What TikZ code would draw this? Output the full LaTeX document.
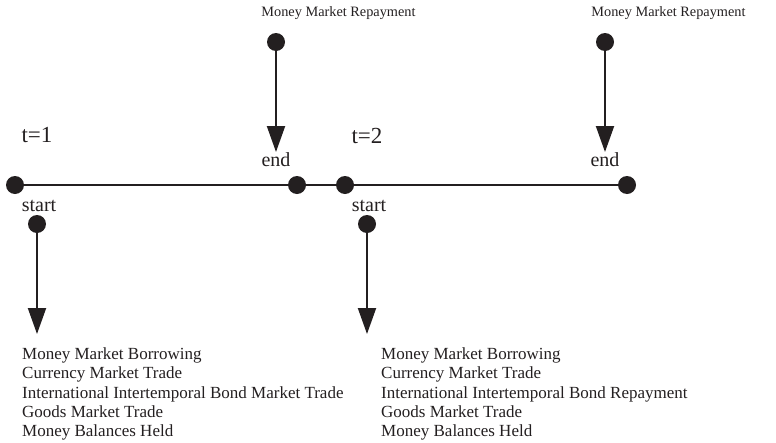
\documentclass[tikz,border=0pt]{standalone}
\usepackage{fontspec}
\setmainfont{Liberation Serif}
\usetikzlibrary{arrows.meta}
\definecolor{ink}{HTML}{231F20}
\begin{document}
\begin{tikzpicture}[x=1pt,y=-1pt,
  dot/.style={circle,fill=ink,inner sep=0pt,minimum size=18pt},
  conn/.style={draw=ink,line width=2pt},
  arr/.style={conn,-{Triangle[width=18pt,length=26pt]}},
  small/.style={text=ink,inner sep=0pt,font=\fontsize{14.3}{17}\selectfont},
  lbl/.style={text=ink,inner sep=0pt,font=\fontsize{20}{24}\selectfont},
  big/.style={text=ink,inner sep=0pt,font=\fontsize{23}{26}\selectfont},
  list/.style={text=ink,inner sep=0pt,font=\fontsize{17}{19.25}\selectfont,align=left,anchor=north west}]
\useasboundingbox (0,0) rectangle (776,442);
% timeline
\node[dot] (a1) at (15,185) {};
\node[dot] (a2) at (297,185) {};
\node[dot] (b1) at (345,185) {};
\node[dot] (b2) at (627,185) {};
\draw[conn] (a1) -- (a2) -- (b1) -- (b2);
% period labels
\node[big] (t1) at (37,135.5) {t=1};
\node[big] (t2) at (367,135.5) {t=2};
\node[lbl] (st1) at (39,206) {start};
\node[lbl] (st2) at (369,206) {start};
\node[lbl] (en1) at (276,160) {end};
\node[lbl] (en2) at (605,160) {end};
% start arrows
\node[dot] (s1) at (37,224) {};
\coordinate (s1tip) at (37,334);
\draw[arr] (s1.center) -- (s1tip);
\node[dot] (s2) at (367,224) {};
\coordinate (s2tip) at (367,334);
\draw[arr] (s2.center) -- (s2tip);
% end arrows
\node[dot] (r1) at (276,42) {};
\coordinate (r1tip) at (276,152);
\draw[arr] (r1.center) -- (r1tip);
\node[dot] (r2) at (605,42) {};
\coordinate (r2tip) at (605,152);
\draw[arr] (r2.center) -- (r2tip);
\node[small] (rep1) at (338.5,13) {Money Market Repayment};
\node[small] (rep2) at (668.5,13) {Money Market Repayment};
% lists
\node[list] (l1) at (22,347.5) {Money Market Borrowing\\Currency Market Trade\\International Intertemporal Bond Market Trade\\Goods Market Trade\\Money Balances Held};
\node[list] (l2) at (381,347.5) {Money Market Borrowing\\Currency Market Trade\\International Intertemporal Bond Repayment\\Goods Market Trade\\Money Balances Held};
\end{tikzpicture}
\end{document}
